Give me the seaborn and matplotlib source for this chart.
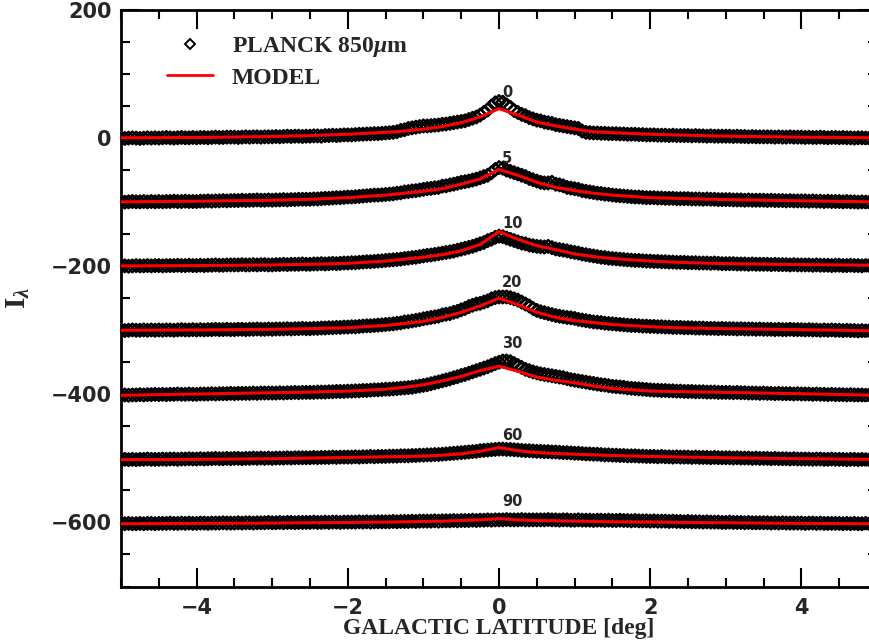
import numpy as np
import pandas as pd
import matplotlib
matplotlib.use("Agg")
import matplotlib.pyplot as plt
from matplotlib.ticker import MultipleLocator
from matplotlib.lines import Line2D
import seaborn as sns

# ---------------- data ----------------
lat = np.round(np.arange(-100, 101) * 0.05, 2)          # galactic latitude sampling [deg]
offsets = [0, -100, -200, -300, -400, -500, -600]       # vertical offset of each profile
labels = ["0", "5", "10", "20", "30", "60", "90"]       # longitude labels
label_rel_y = [71, 68, 67, 75, 79, 36, 32]

p0 = [0, -0.5, 0, 0.5, 0, -0.5, 0, 0.5, 0, 0.5,
      0, 0.5, 1, 0.5, 0, 0.5, 1, 0.5, 0.5, 1,
      0.5, 1, 1, 0.5, 1, 1.5, 1, 1, 1.5, 1.5,
      1.5, 1, 1.5, 2, 1.5, 2, 2, 1.5, 2, 2,
      2, 2.5, 2, 2.5, 3, 2.5, 3, 3, 2.5, 3,
      3, 3.5, 3.5, 3, 4, 4, 4.5, 4, 4.5, 5,
      5, 5, 5.5, 6, 6, 6.5, 6.5, 7, 7, 7.5,
      8, 8.5, 9, 10, 12, 13, 15, 16, 17, 18,
      19, 19, 19.5, 20, 20.5, 21.5, 22, 23, 24, 25,
      26, 27, 29, 31, 33, 36, 40, 44, 50, 55,
      57, 56, 52, 48, 43, 40, 37, 35, 32, 30,
      28, 27, 25, 24, 23, 21, 20, 19, 18, 17,
      16, 15, 11, 9, 8.5, 8, 8, 7.5, 7.5, 7,
      7, 7, 6.5, 6.5, 6, 6, 6, 5.5, 5.5, 5,
      5, 5, 4.5, 4.5, 4.5, 4, 4.5, 4, 4, 4,
      4, 3.5, 4, 3.5, 3.5, 3, 3.5, 3, 3, 3,
      3, 3, 2.5, 3, 2.5, 2.5, 2, 2.5, 2, 2,
      2, 2, 2, 1.5, 2, 1.5, 1.5, 2, 1.5, 1.5,
      1.5, 1, 1.5, 1, 1, 1.5, 1, 0.5, 1, 1,
      0.5, 1, 0.5, 0.5, 0, 0.5, 0.5, 0, 0, 0.5,
      0]
p5 = [0.5, 0, 0.5, 1, 0.5, 0.5, 1, 0.5, 1, 0.5,
      1, 0.5, 1, 1, 1.5, 1, 1, 1.5, 1, 1,
      1, 1.5, 1.5, 2, 1.5, 2, 2, 2.5, 2, 2.5,
      2.5, 2.5, 3, 2.5, 3, 3, 3.5, 3, 3, 3.5,
      3, 3.5, 3.5, 4, 3.5, 4, 4, 4.5, 4.5, 4.5,
      4.5, 5, 5, 5.5, 6, 6, 6.5, 7, 7, 7.5,
      8, 8, 8.5, 9, 9.5, 10, 10.5, 11, 11, 11.5,
      12, 12.5, 13, 14, 14.5, 16, 16.5, 17.5, 18, 19,
      20, 21, 21.5, 22.5, 23, 25, 25.5, 27, 28, 29.5,
      31, 32, 33, 34.5, 36, 38, 40, 42, 46, 51,
      54, 53, 50, 48, 46, 44, 42, 40, 37, 35,
      33, 31, 30, 30, 31, 28, 27, 25.5, 23, 22,
      21, 20, 18, 17, 16, 15, 14, 13.5, 12.5, 12,
      11, 10.5, 10, 9.5, 9, 8.5, 8, 8, 7.5, 7,
      7, 7, 6.5, 6.5, 6, 6, 6, 5.5, 5.5, 5.5,
      5.5, 5, 5, 5, 4.5, 5, 4.5, 4.5, 4, 4,
      4, 4, 3.5, 3.5, 3.5, 3, 3.5, 3, 3, 3,
      3, 2.5, 3, 2.5, 2.5, 2.5, 2, 2.5, 2, 2,
      2, 2, 1.5, 2, 1.5, 1.5, 1, 1.5, 1, 1,
      1, 0.5, 1, 0.5, 0.5, 0, 0.5, 0, 0, 0.5,
      0]
p10 = [0.5, 0.5, 0, 0.5, 1, 0.5, 0.5, 1, 0.5, 1,
       1, 0.5, 1, 1, 1, 1.5, 1, 1, 1.5, 1,
       1, 1.5, 1, 1.5, 1.5, 2, 1.5, 1.5, 2, 2,
       2, 2, 2.5, 2, 2, 2.5, 2, 2.5, 2.5, 2,
       2, 2.5, 2.5, 3, 2.5, 3, 3, 3, 3.5, 3,
       3, 3.5, 3.5, 4, 3.5, 4, 4.5, 4, 4.5, 5,
       5, 5.5, 5.5, 6, 6.5, 7, 7, 7.5, 8, 8.5,
       9, 9.5, 10, 10.5, 11, 12, 12.5, 13.5, 14, 15,
       16, 17, 17.5, 18.5, 19.5, 20.5, 21.5, 22.5, 23.5, 25,
       26.5, 28, 29.5, 31, 33, 35, 37, 40, 42, 45,
       47, 46, 44, 42, 40, 38, 36, 35, 33, 32,
       31, 30.5, 30, 31, 29, 27, 26, 25, 24, 22.5,
       21.5, 20.5, 19, 18, 17, 16, 15, 14, 13.5, 12.5,
       12, 11.5, 11, 10.5, 10, 9.5, 9, 9, 8.5, 8,
       8, 7.5, 7.5, 7, 7, 6.5, 6.5, 6, 6, 6,
       5.5, 5.5, 5.5, 5, 5, 5, 4.5, 5, 4.5, 4,
       4, 4, 4, 3.5, 3.5, 3.5, 3, 3.5, 3, 3,
       3, 3, 2.5, 3, 2.5, 2.5, 2.5, 2, 2.5, 2,
       2, 2, 2, 1.5, 2, 1.5, 1.5, 1.5, 1, 1.5,
       1.5, 1, 1, 1.5, 1, 1, 0.5, 1, 1, 0.5,
       1]
p20 = [0, -0.5, 0, 0.5, 0, 0, 0.5, 0, 0.5, 0,
       0.5, 0, 0.5, 0.5, 0, 0.5, 1, 0.5, 0.5, 1,
       0.5, 1, 0.5, 1, 1, 1.5, 1, 1, 1.5, 1,
       1, 1.5, 1.5, 1, 1.5, 1.5, 2, 1.5, 1.5, 2,
       1.5, 2, 2, 2, 2.5, 2, 2.5, 2.5, 3, 2.5,
       2.5, 3, 3, 3.5, 3.5, 4, 4, 4.5, 4.5, 5,
       5, 5.5, 5.5, 6, 6.5, 7, 7, 7.5, 8, 8.5,
       9, 9.5, 10, 11, 11.5, 13, 13.5, 14.5, 15.5, 16.5,
       18, 19, 20, 21, 22, 24, 25, 26, 28, 29.5,
       32, 34, 37, 39, 41, 42, 44, 46, 49, 51,
       52, 52, 52, 51, 49, 47, 44, 41, 38, 34,
       31, 29, 27.5, 26, 24.5, 23, 22, 21, 20, 19.5,
       18.5, 17, 16, 15, 14, 13, 12.5, 12, 11, 10.5,
       10, 9.5, 9, 8.5, 8, 7.5, 7.5, 7, 6.5, 6.5,
       6, 6, 5.5, 5.5, 5, 5, 4.5, 4.5, 4.5, 4,
       4, 4, 3.5, 3.5, 3.5, 3, 3, 3, 2.5, 3,
       2.5, 2.5, 2.5, 2, 2.5, 2, 2, 2, 1.5, 2,
       1.5, 1.5, 1.5, 1, 1.5, 1, 1, 1.5, 1, 1,
       1, 0.5, 1, 0.5, 0.5, 0, 0.5, 0, 0.5, 0,
       0, -0.5, 0, -0.5, -0.5, -1, -0.5, -1, -0.5, -1,
       -1]
p30 = [-1.5, -1, -1.5, -1, -1, -0.5, -1, -0.5, -0.5, 0,
       -0.5, 0, -0.5, 0, 0, 0.5, 0, 0, 0.5, 0,
       0, 0.5, 0.5, 0.5, 1, 0.5, 1, 1, 1, 1.5,
       1, 1.5, 1.5, 1.5, 1.5, 2, 1.5, 2, 2, 2,
       2, 2, 2.5, 2, 2.5, 2.5, 3, 2.5, 3, 3,
       3, 3, 3.5, 3.5, 3.5, 4, 4, 4.5, 4.5, 4.5,
       5, 5, 5.5, 5.5, 6, 6, 6.5, 7, 7, 7.5,
       8, 8, 8.5, 9, 9.5, 10, 10.5, 11, 12, 13,
       14, 15, 16.5, 18, 19.5, 21, 22.5, 24, 26, 27.5,
       29.5, 31, 33, 35, 37, 39, 41, 43, 45.5, 48,
       50, 52, 52, 51, 48, 45, 42, 39, 37, 35,
       33.5, 32, 31, 30, 29, 28, 27, 26, 24.5, 23,
       22, 21, 20, 19, 18, 17, 16, 15, 14.5, 13.5,
       12.5, 12, 11.5, 11, 10, 9.5, 9, 8.5, 8, 7.5,
       7, 6.5, 6.5, 6, 6, 5.5, 5.5, 5, 5, 4.5,
       4.5, 4.5, 4, 4, 4, 3.5, 3.5, 3.5, 3, 3,
       3, 3, 2.5, 3, 2.5, 2.5, 2, 2, 2, 1.5,
       2, 1.5, 1.5, 1, 1.5, 1, 1, 1, 0.5, 1,
       0.5, 0.5, 0.5, 0, 0.5, 0, 0, -0.5, 0, -0.5,
       -0.5, -0.5, -1, -0.5, -1, -1, -1, -1.5, -1, -1.5,
       -1.5]
p60 = [-2, -1.5, -2, -1.5, -2, -1.5, -1.5, -1, -1.5, -1.5,
       -1.5, -1, -1.5, -1, -1, -1.5, -1, -1, -0.5, -1,
       -1, -0.5, -1, -0.5, -0.5, 0, -0.5, -0.5, 0, -0.5,
       0, 0, -0.5, 0, 0, 0.5, 0, 0.5, 0, 0.5,
       0, 0.5, 0.5, 0.5, 1, 0.5, 1, 1, 1, 1,
       1, 1.5, 1, 1.5, 1.5, 1.5, 2, 1.5, 2, 2,
       2, 2, 2.5, 2, 2.5, 2.5, 3, 2.5, 3, 3,
       3, 3.5, 3.5, 3.5, 4, 4, 4, 4.5, 4.5, 5,
       5, 5.5, 5.5, 6, 6, 6.5, 7, 7.5, 8, 8.5,
       9, 9.5, 10, 10.5, 11, 12, 12.5, 13, 13.5, 14,
       14.5, 14.5, 14, 14, 13.5, 13, 12.5, 12, 12, 11.5,
       11, 11, 10.5, 10.5, 10, 10, 9.5, 9, 9, 8.5,
       8, 8, 7.5, 7, 7, 6.5, 6.5, 6, 5.5, 5.5,
       5, 5, 4.5, 4.5, 4, 4, 4, 3.5, 3.5, 3,
       3, 3, 2.5, 3, 2.5, 2.5, 2, 2.5, 2, 2,
       2, 1.5, 2, 1.5, 1.5, 1.5, 1, 1.5, 1, 1,
       1, 1, 0.5, 1, 0.5, 0.5, 0.5, 0, 0.5, 0,
       0, 0, -0.5, 0, -0.5, -0.5, -0.5, -1, -0.5, -1,
       -1, -1, -1, -1.5, -1, -1, -1.5, -1.5, -1, -1.5,
       -1.5, -1.5, -2, -1.5, -1.5, -2, -1.5, -2, -2, -1.5,
       -2]
p90 = [-2, -2, -1.5, -2, -2, -1.5, -2, -1.5, -1.5, -2,
       -1.5, -1.5, -1.5, -1, -1.5, -1.5, -1, -1.5, -1, -1.5,
       -1.5, -1, -1, -1.5, -1, -1, -1, -0.5, -1, -1,
       -1, -0.5, -1, -0.5, -0.5, -1, -0.5, -0.5, -0.5, 0,
       -0.5, -0.5, 0, -0.5, 0, 0, -0.5, 0, 0, 0,
       0, 0.5, 0, 0, 0.5, 0, 0.5, 0.5, 0, 0.5,
       0.5, 0.5, 0.5, 1, 0.5, 1, 0.5, 1, 1, 1,
       1, 1, 1.5, 1, 1.5, 1.5, 1.5, 2, 1.5, 2,
       2, 2, 2, 2.5, 2, 2.5, 2.5, 2.5, 3, 2.5,
       3, 3, 3, 3.5, 3, 3.5, 3.5, 4, 3.5, 4,
       4, 4, 4.5, 4, 4, 4, 4.5, 4, 4, 4,
       4, 4, 4, 4.5, 4, 4, 3.5, 4, 4, 3.5,
       3.5, 4, 3.5, 3.5, 3.5, 3, 3.5, 3.5, 3, 3.5,
       3, 3, 3.5, 3, 3, 2.5, 3, 2.5, 2.5, 2.5,
       2, 2.5, 2, 2, 2, 1.5, 2, 1.5, 1.5, 1,
       1.5, 1, 1, 1, 0.5, 1, 0.5, 0.5, 0.5, 0,
       0, 0.5, 0, 0, 0, -0.5, 0, -0.5, -0.5, -0.5,
       -0.5, -0.5, -1, -0.5, -1, -0.5, -1, -1, -1, -1,
       -1, -1.5, -1, -1, -1.5, -1, -1.5, -1.5, -1.5, -1.5,
       -1.5, -2, -1.5, -2, -1.5, -2, -2, -1.5, -2, -2,
       -2]

model_lat = [-5, -4, -3, -2.5, -2, -1.5, -1.25, -1, -0.75, -0.5, -0.25, 0,
             0.25, 0.5, 0.75, 1, 1.25, 1.5, 2, 2.5, 3, 4, 5]
m0 = [0.5, 1, 2.5, 4, 6, 9, 11, 14, 18, 24, 33, 46, 36, 25, 19, 14, 10, 8.5, 6, 4.5, 3, 1.5, 0.5]
m5 = [0.5, 1.5, 3, 4.5, 7, 11, 14, 17, 21, 28, 36, 51, 42, 31, 23, 18, 14, 11, 7, 5.5, 4, 2, 0.5]
m10 = [0.5, 1, 2, 3, 4.5, 8, 11, 14, 18, 24, 34, 54, 42, 32, 26, 19, 15, 12, 8, 5.5, 4, 2.5, 1.5]
m20 = [0, 0.5, 1.5, 2.5, 4, 7.5, 10.5, 14, 20, 28, 38, 50, 40, 28, 20, 15, 12, 9, 5.5, 3.5, 2.5, 1, -1]
m30 = [-1.5, 0.5, 2.5, 3.5, 5, 8, 11, 15, 21, 28, 37, 44, 36, 27, 22, 18, 13, 9, 5, 4, 3, 1, -1.5]
m60 = [-2, -1.5, -0.5, 0.5, 1.5, 2.5, 3, 3.5, 5, 7, 11, 17, 12, 9, 7.5, 6.5, 5.5, 4.5, 3, 2, 1, -0.5, -1.5]
m90 = [-2, -1.5, -1, -0.5, 0, 0.5, 1, 1.5, 2, 3, 4, 6, 4, 3, 2.5, 2, 1.5, 1, 0.5, 0, -0.5, -1.5, -2]

data_profiles = [p0, p5, p10, p20, p30, p60, p90]
model_profiles = [m0, m5, m10, m20, m30, m60, m90]

obs_df = pd.concat([pd.DataFrame({"lat": lat, "I": np.array(p) + off, "lon": lab})
                    for p, off, lab in zip(data_profiles, offsets, labels)], ignore_index=True)
mod_df = pd.concat([pd.DataFrame({"lat": model_lat, "I": np.array(m) + off, "lon": lab})
                    for m, off, lab in zip(model_profiles, offsets, labels)], ignore_index=True)

# ---------------- style ----------------
sns.set_style("ticks")
plt.rcParams["font.family"] = ["DejaVu Sans"]
plt.rcParams["mathtext.fontset"] = "custom"
plt.rcParams["mathtext.rm"] = "Liberation Serif:bold"
plt.rcParams["mathtext.bf"] = "Liberation Serif:bold"
plt.rcParams["mathtext.it"] = "Liberation Serif:italic:bold"

fig = plt.figure(figsize=(8.7, 6.44), dpi=100)
ax = fig.add_axes([121 / 870, (644 - 586.5) / 644, 756 / 870, 576.5 / 644])

sns.scatterplot(data=obs_df, x="lat", y="I", marker="D", s=42, facecolor="none",
                edgecolor="black", linewidth=1.7, legend=False, ax=ax, zorder=2)
sns.lineplot(data=mod_df, x="lat", y="I", units="lon", estimator=None, sort=False,
             color="#ff0000", lw=2.2, legend=False, ax=ax, zorder=3)

for lab, off, ly in zip(labels, offsets, label_rel_y):
    ax.text(0.04, off + ly, lab, fontsize=10.5, fontweight="bold", ha="left", va="center")

ax.set_xlim(-5, 5)
ax.set_ylim(-700, 200)
ax.xaxis.set_major_locator(MultipleLocator(2))
ax.xaxis.set_minor_locator(MultipleLocator(0.5))
ax.yaxis.set_major_locator(MultipleLocator(200))
ax.yaxis.set_minor_locator(MultipleLocator(50))
ax.tick_params(which="both", direction="in", top=True, right=True, width=1.5, color="black")
ax.tick_params(which="major", length=13.5)
ax.tick_params(which="minor", length=6.5)
ax.tick_params(axis="y", which="major", pad=6.5, labelsize=15)
ax.tick_params(axis="x", which="major", pad=8, labelsize=15)
for t in ax.get_xticklabels() + ax.get_yticklabels():
    t.set_fontweight("bold")
for sp in ax.spines.values():
    sp.set_linewidth(2.0)
    sp.set_color("black")

ax.set_xlabel("GALACTIC LATITUDE [deg]", fontsize=17, fontweight="bold",
              family="Liberation Serif")
ax.xaxis.set_label_coords(0.5, -0.055)
ax.set_ylabel(r"$\mathbf{I}_{\lambda}$", fontsize=21)
ax.yaxis.set_label_coords(-0.118, 0.5)

handles = [Line2D([], [], marker="D", ls="", mfc="none", mec="black", ms=4.7, mew=1.4),
           Line2D([], [], color="#ff0000", lw=2.0)]
leg = ax.legend(handles, [r"PLANCK 850$\mu$m", "MODEL"], loc="upper left",
                bbox_to_anchor=((167 - 121) / 756, (586.5 - 35) / 576.5),
                frameon=False, borderpad=0, borderaxespad=0, handlelength=1.95,
                handletextpad=0.8, labelspacing=0.34,
                prop={"family": "Liberation Serif", "weight": "bold", "size": 17})

fig.savefig("out.png", dpi=100)
